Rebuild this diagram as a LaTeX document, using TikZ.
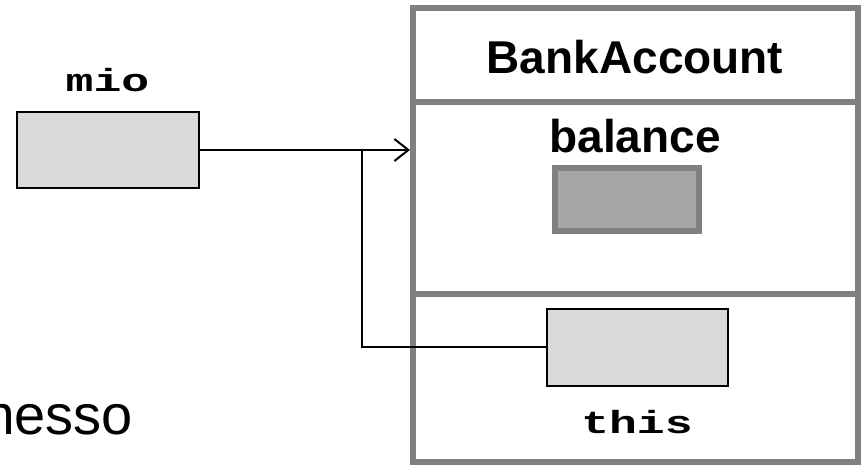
\documentclass[tikz,border=0pt]{standalone}
\usepackage{fontspec}
\setmainfont{Liberation Sans}
\newfontfamily\codefont{Liberation Mono}
\usetikzlibrary{arrows.meta}
\definecolor{framegray}{HTML}{808080}
\definecolor{cellfill}{HTML}{D9D9D9}
\definecolor{fieldfill}{HTML}{A6A6A6}
\tikzset{
  section/.style={draw=framegray, line width=6pt, rectangle, inner sep=0pt, fill=white},
  refbox/.style={draw=black, line width=2pt, fill=cellfill, rectangle, inner sep=0pt},
  fieldbox/.style={draw=framegray, line width=6pt, fill=fieldfill, rectangle, inner sep=0pt},
  codelabel/.style={font=\codefont\bfseries\fontsize{32}{36}\selectfont, xscale=1.45, inner sep=0pt, anchor=base},
  titlelabel/.style={font=\bfseries\fontsize{46}{52}\selectfont, inner sep=0pt, anchor=base},
  link/.style={draw=black, line width=2pt},
}
\begin{document}
\begin{tikzpicture}[x=1pt, y=-1pt]
  \useasboundingbox (0,0) rectangle (863,465);

  % object frame: header, field area, method frame
  \node[section, minimum width=445pt, minimum height=94pt] (head) at (635.5,55) {};
  \node[section, minimum width=445pt, minimum height=192pt] (fields) at (635.5,198) {};
  \node[section, minimum width=445pt, minimum height=168pt] (frame) at (635.5,378) {};

  \node[titlelabel] (cls) at (635,74) {BankAccount};
  \node[titlelabel] (bal) at (635,153) {balance};
  \node[fieldbox, minimum width=144pt, minimum height=63pt] (balbox) at (627,199.5) {};

  % reference variables
  \node[refbox, minimum width=182pt, minimum height=76pt] (mio) at (108,150) {};
  \node[codelabel] (miolabel) at (107.5,92) {mio};

  \node[refbox, minimum width=181pt, minimum height=77pt] (this) at (637.5,347.5) {};
  \node[codelabel] (thislabel) at (637,433) {this};

  \node[font=\fontsize{56}{60}\selectfont, inner sep=0pt, anchor=base west] (msg) at (-32,434) {messo};

  % references to the object
  \coordinate (join) at (362,150);
  \draw[link, -{Straight Barb[length=14pt, width=22pt]}] (mio.east) -- (mio.east -| fields.west);
  \draw[link] (this.west) -| (join);
\end{tikzpicture}
\end{document}
